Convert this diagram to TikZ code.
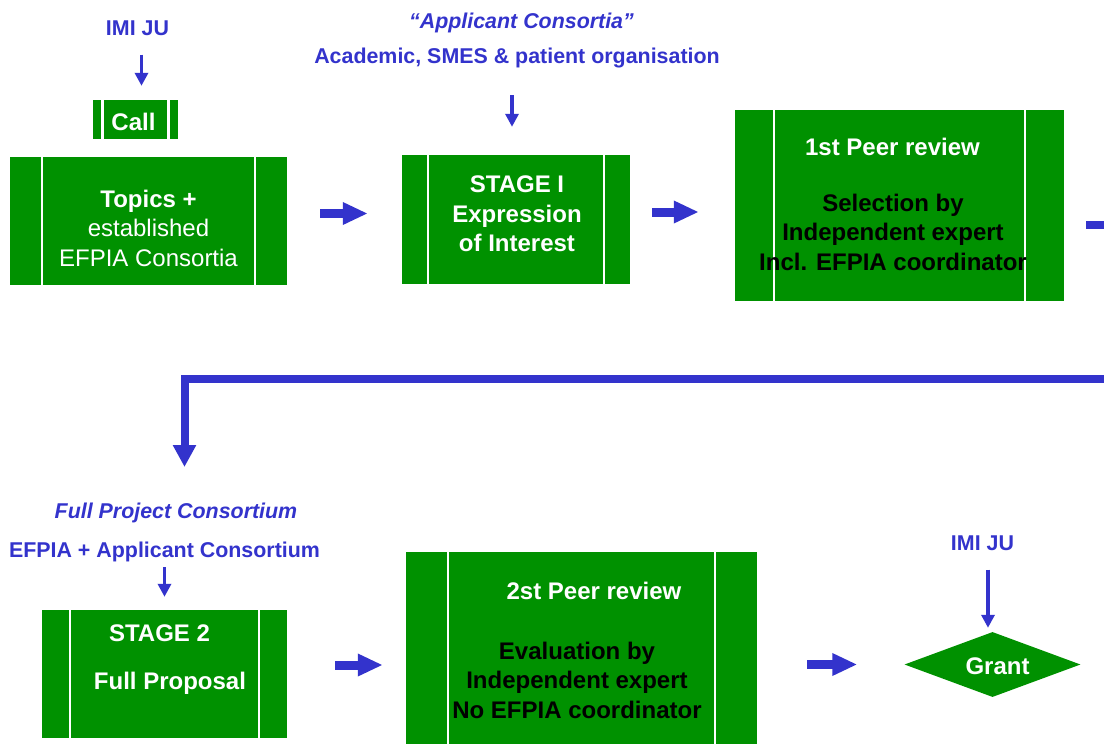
\documentclass[tikz,border=0pt]{standalone}
\usepackage{fontspec}
\setmainfont{Liberation Sans}
\usetikzlibrary{arrows.meta,shapes.geometric}
\definecolor{imigreen}{RGB}{0,145,0}
\definecolor{imiblue}{RGB}{51,51,204}

\begin{document}
\begin{tikzpicture}[x=1pt,y=-1pt,
  procbox/.style={fill=imigreen,inner sep=0,path picture={
    \draw[white,line width=2.5pt]
      ([xshift=#1]path picture bounding box.north west) -- ([xshift=#1]path picture bounding box.south west)
      ([xshift=-#1]path picture bounding box.north east) -- ([xshift=-#1]path picture bounding box.south east);}},
  boxtext/.style={font=\fontsize{24}{29.5}\selectfont\bfseries,align=center,inner sep=0},
  whitetext/.style={boxtext,text=white},
  bluetext/.style={font=\fontsize{21.4}{26}\selectfont\bfseries,text=imiblue,inner sep=0},
  thinarrow/.style={draw=imiblue,line width=3.5pt,-{Triangle[length=13pt,width=13pt]}},
  blockarrow/.style={draw=imiblue,line width=9pt,-{Triangle[length=25pt,width=21pt]}},
  bigarrow/.style={draw=imiblue,line width=8pt,-{Triangle[length=22pt,width=22pt]}}]
\path[use as bounding box] (0,0) rectangle (1104,744);
\clip (0,0) rectangle (1104,744);

% first row
\node[bluetext] (imiju) at (137.5,28) {IMI JU};
\node[procbox=9.5pt,minimum width=85pt,minimum height=39pt] (call) at (135.5,119.5) {};
\node[whitetext] (calltext) at (133.5,122) {Call};
\node[procbox=32pt,minimum width=277pt,minimum height=128pt] (topics) at (148.5,221) {};
\node[whitetext] (topicstext) at (148.5,228) {Topics +\\{\mdseries established}\\{\mdseries EFPIA Consortia}};

\node[bluetext] (applicant) at (521.5,23) {\itshape “Applicant Consortia”};
\node[bluetext] (academic) at (517,58) {Academic, SMES \& patient organisation};
\node[procbox=26pt,minimum width=228pt,minimum height=129pt] (stage1) at (516,219.5) {};
\node[whitetext] (stage1text) at (517,214) {STAGE I\\Expression\\of Interest};

\node[procbox=39pt,minimum width=329pt,minimum height=191pt] (peer1) at (899.5,205.5) {};
\node[whitetext] (peer1title) at (892.5,147) {1st Peer review};
\node[boxtext] (peer1text) at (893,232) {Selection by\\Independent expert\\Incl. EFPIA coordinator};

% second row
\node[bluetext] (fullproject) at (176,513) {\itshape Full Project Consortium};
\node[bluetext] (efpia) at (164.5,552) {EFPIA + Applicant Consortium};
\node[procbox=28pt,minimum width=245pt,minimum height=128pt] (stage2) at (164.5,674) {};
\node[whitetext] (stage2title) at (159.5,633) {STAGE 2};
\node[whitetext] (stage2text) at (170,683) {Full Proposal};

\node[procbox=42pt,minimum width=351pt,minimum height=208pt] (peer2) at (581.5,656) {};
\node[whitetext] (peer2title) at (594,591) {2st Peer review};
\node[boxtext] (peer2text) at (577,680) {Evaluation by\\Independent expert\\No EFPIA coordinator};

\node[bluetext] (imiju2) at (982.5,543) {IMI JU};
\node[diamond,fill=imigreen,aspect=2.7,minimum width=176pt,minimum height=65pt,inner sep=0] (grant) at (992.5,664.5) {};
\node[whitetext] (granttext) at (997.5,666) {Grant};

% connectors
\draw[thinarrow,shorten <=19pt,shorten >=14pt] ([xshift=4pt]imiju.south) -- ([xshift=6pt]call.north);
\draw[thinarrow,shorten <=27pt,shorten >=28pt] ([xshift=-5pt]academic.south) -- ([xshift=-4pt]stage1.north);
\draw[thinarrow,shorten <=5pt,shorten >=13pt] (efpia.south) -- (stage2.north);
\draw[thinarrow,shorten <=19pt,shorten >=4pt] ([xshift=5.5pt]imiju2.south) -- ([xshift=-4.5pt]grant.north);

\draw[blockarrow,shorten <=33pt,shorten >=34pt] ([yshift=7.5pt]topics.east) -- ([yshift=6pt]stage1.west);
\draw[blockarrow,shorten <=22pt,shorten >=36pt] ([yshift=7.5pt]stage1.east) -- ([yshift=-6.5pt]peer1.west);
\draw[blockarrow,shorten <=48pt,shorten >=23pt] ([yshift=9pt]stage2.east) -- ([yshift=-9pt]peer2.west);
\draw[blockarrow,shorten <=50pt,shorten >=47pt] (peer2.east |- grant.west) -- (grant.west);

\coordinate (turn) at (1130,379);
\coordinate (nextstage) at (184.5,467);
\draw[bigarrow] ([xshift=22pt,yshift=-19.5pt]peer1.east) -| (turn) -| (nextstage);
\end{tikzpicture}
\end{document}
